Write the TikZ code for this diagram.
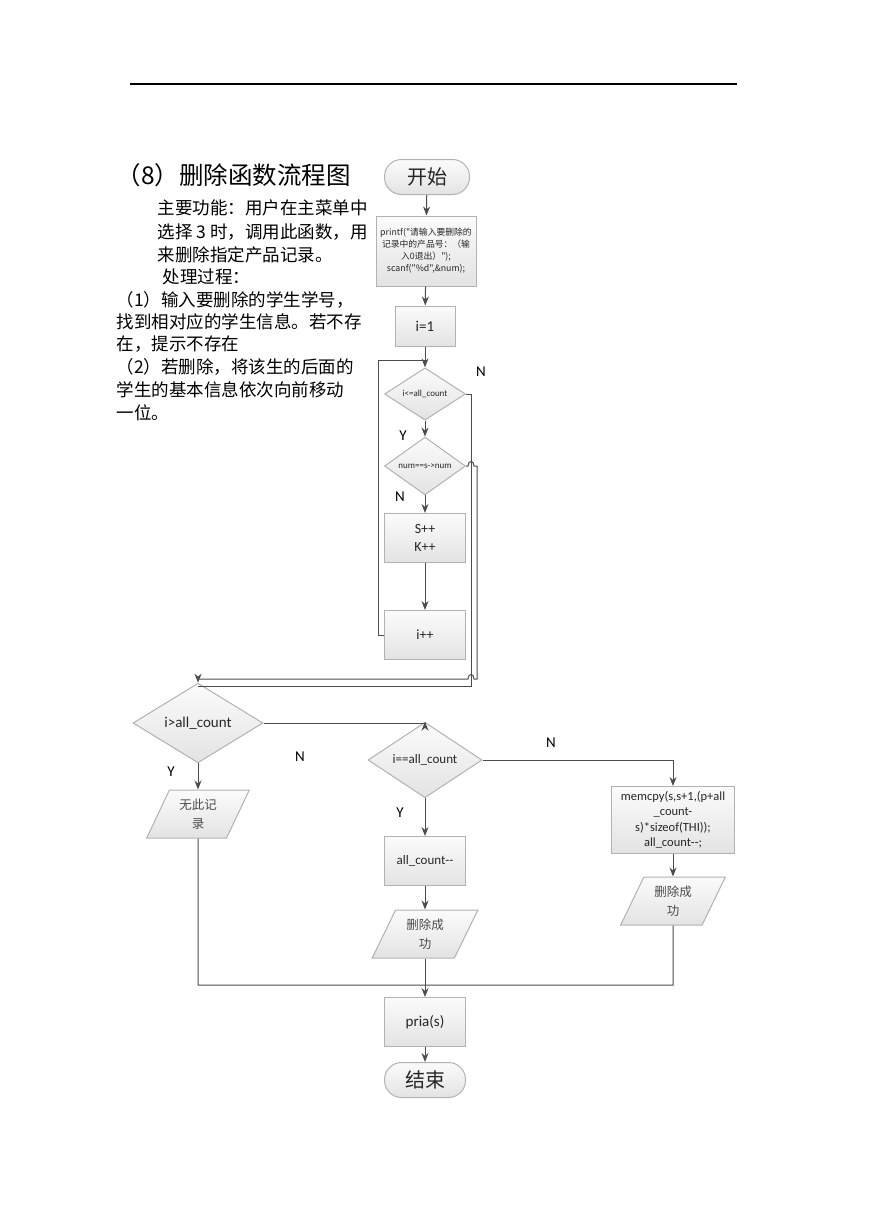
\documentclass[tikz,border=0pt]{standalone}
\usepackage{fontspec}
\setmainfont{Carlito}
\newfontfamily\cjk{Noto Sans CJK SC}
\usetikzlibrary{shapes.geometric, arrows.meta}

\begin{document}
\begin{tikzpicture}[>={Stealth[length=9pt, width=7pt]}, x=1pt, y=-1pt,
                    line width=1pt, draw=black!70]
\tikzstyle{boxfill}=[draw=gray!60, top color=gray!3, bottom color=gray!22]
\tikzstyle{proc}=[rectangle, boxfill, minimum width=81pt,
                    minimum height=49pt, inner sep=1pt, align=center,
                    text=black!85, font=\fontsize{14}{18}\selectfont]
\tikzstyle{test}=[diamond, boxfill, inner sep=0pt, text=black!85,
                    font=\fontsize{13}{13}\selectfont]
\tikzstyle{io}=[trapezium, trapezium left angle=64, trapezium right angle=116,
                    trapezium stretches=true, boxfill, minimum width=103pt,
                    minimum height=48pt, inner sep=0pt, align=center,
                    text=black!70, font=\cjk\fontsize{12.5}{19}\selectfont]
\tikzstyle{term}=[rectangle, rounded corners=17pt, boxfill, minimum width=85pt,
                    minimum height=35pt, text=black!85,
                    font=\cjk\fontsize{20}{20}\selectfont]
\tikzstyle{yn}=[font=\fontsize{15}{15}\selectfont]
\tikzstyle{para}=[anchor=west, inner sep=0pt,
                    font=\cjk\fontsize{17.5}{17.5}\selectfont]
  \useasboundingbox (0,0) rectangle (869,1228);
  \draw[black, line width=1.3pt] (130,84) -- (737,84);

  % explanation on the left
  \node[para, font=\cjk\fontsize{24.5}{24.5}\selectfont] (title) at (116,175) {（8）删除函数流程图};
  \node[para] (l1) at (157,208) {主要功能：用户在主菜单中};
  \node[para] (l2) at (157,232) {选择 3 时，调用此函数，用};
  \node[para] (l3) at (157,255) {来删除指定产品记录。};
  \node[para] (l4) at (162,277) {处理过程：};
  \node[para] (l5) at (116,300) {（1）输入要删除的学生学号，};
  \node[para] (l6) at (116,322) {找到相对应的学生信息。若不存};
  \node[para] (l7) at (116,344) {在，提示不存在};
  \node[para] (l8) at (116,367) {（2）若删除，将该生的后面的};
  \node[para] (l9) at (116,390) {学生的基本信息依次向前移动};
  \node[para] (l10) at (116,413) {一位。};

  % flow chart
  \node[term] (start) at (427,177) {开始};
  \node[proc, minimum width=100pt, minimum height=70pt,
        font=\cjk\fontsize{8.8}{12}\selectfont] (input) at (426,251)
        {printf("请输入要删除的\\记录中的产品号：（输\\入0退出）");\\scanf("\%d",\&num);};
  \node[proc, minimum width=60pt, minimum height=40pt,
        font=\fontsize{15}{15}\selectfont] (init) at (425,326) {i=1};
  \coordinate (join) at (425,360);
  \node[test, minimum width=81pt, minimum height=48pt,
        font=\fontsize{9}{9}\selectfont] (cond1) at (425,394) {i<=all\_count};
  \node[test, minimum width=81pt, minimum height=47pt,
        font=\fontsize{9}{9}\selectfont] (cond2) at (425,466) {num==s->num};
  \node[proc] (inc) at (425,538) {S++\\K++};
  \node[proc] (next) at (425,635) {i++};
  \node[test, minimum width=130pt, minimum height=63pt,
        font=\fontsize{15}{15}\selectfont] (cond3) at (198,723) {i>all\_count};
  \node[io] (none) at (198,814) {无此记\\录};
  \node[test, minimum width=114pt, minimum height=56pt] (cond4) at (425,760) {i==all\_count};
  \node[proc, minimum width=123pt, minimum height=67pt,
        font=\fontsize{12.5}{15.5}\selectfont] (move) at (673,820)
        {memcpy(s,s+1,(p+all\\\_count-\\s)*sizeof(THI));\\all\_count\mbox{-}\mbox{-};};
  \node[proc, font=\fontsize{13}{15}\selectfont] (dec) at (425,861) {all\_count\mbox{-}\mbox{-}};
  \node[io, minimum width=106pt] (ok1) at (425,934) {删除成\\功};
  \node[io, minimum width=105pt] (ok2) at (673,901) {删除成\\功};
  \node[proc, font=\fontsize{15}{15}\selectfont] (show) at (425,1022) {pria(s)};
  \node[term, minimum width=81pt] (stop) at (425,1080) {结束};

  \path[->]    (start) edge (input);
  \path[->]    (input) edge (init);
  \path[->]    (init) edge (cond1);
  \path[->]    (cond1) edge (cond2);
  \path[->]    (cond2) edge (inc);
  \path[->]    (inc) edge (next);
  \path[->]    (cond3) edge (none);
  \path[->]    (cond4) edge (dec);
  \path[->]    (dec) edge (ok1);
  \path[->]    (move) edge (ok2);
  \path[->]    (ok1) edge (show);
  \path[->]    (show) edge (stop);

  % loop back and exits
  \draw (next.west) -- (378,635) -- (378,360) -- (join);
  \draw (cond1.east) -- (471,394) -- (471,686) -- (198,686);
  \draw[->] (cond2.east) -- (468,466) .. controls (468,460) and (474,460) .. (474,466)
        -- (477,466) -- (477,679) -- (474,679)
        .. controls (474,673) and (468,673) .. (468,679) -- (198,679) -- (cond3.north);
  \draw[->] (cond3.east) -| (cond4.north);
  \draw[->] (cond4.east) -| (move.north);
  \draw (none.south) -- (198,985) -- (673,985) -- (ok2.south);

  \node[yn] (n1) at (481,372) {N};
  \node[yn] (y1) at (403,436) {Y};
  \node[yn] (n2) at (400,497) {N};
  \node[yn] (y3) at (171,772) {Y};
  \node[yn] (n3) at (300,757) {N};
  \node[yn] (n4) at (551,743) {N};
  \node[yn] (y4) at (400,813) {Y};
\end{tikzpicture}
\end{document}
